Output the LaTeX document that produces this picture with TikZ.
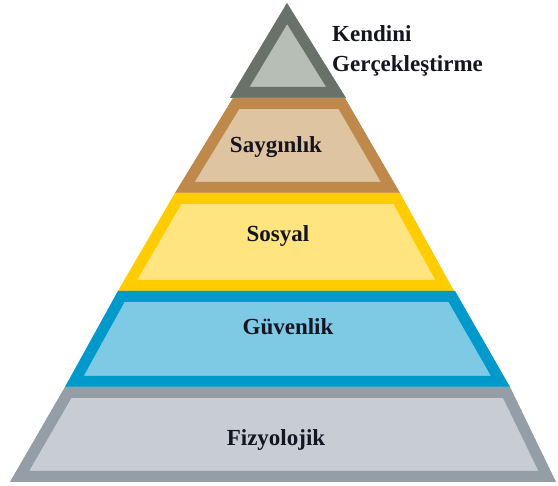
\documentclass[tikz,border=0pt]{standalone}
\usepackage{fontspec}
\newfontfamily\tierfont{Liberation Serif}
\begin{document}
\begin{tikzpicture}[x=1pt,y=-1pt]
\definecolor{topedge}{RGB}{104,114,104}
\definecolor{topfill}{RGB}{183,190,182}
\definecolor{esteemedge}{RGB}{190,137,74}
\definecolor{esteemfill}{RGB}{222,196,160}
\definecolor{socialedge}{RGB}{255,204,0}
\definecolor{socialfill}{RGB}{255,228,128}
\definecolor{safetyedge}{RGB}{0,153,204}
\definecolor{safetyfill}{RGB}{126,202,228}
\definecolor{bodyedge}{RGB}{149,157,166}
\definecolor{bodyfill}{RGB}{200,205,212}
\definecolor{ink}{RGB}{20,20,35}
\tikzset{
  lbl/.style={font=\tierfont\bfseries\fontsize{23}{27}\selectfont, text=ink, anchor=base, inner sep=0pt},
  band/.style={line width=22pt, line join=miter}
}
\useasboundingbox (0,0) rectangle (558,486);
\fill[white] (0,0) rectangle (558,486);
% each tier: light fill with a dark band on the inside of its outline
\newcommand\tier[3]{%
  \begin{scope}
    \clip #1 -- cycle;
    \fill[#3] #1 -- cycle;
    \draw[band, draw=#2] #1 -- cycle;
  \end{scope}}
\tier{(287,3) -- (346,98) -- (230,98)}{topedge}{topfill}
\tier{(233,98) -- (345,98) -- (400,193) -- (175,193)}{esteemedge}{esteemfill}
\tier{(175,193) -- (400,193) -- (454,291) -- (118,291)}{socialedge}{socialfill}
\tier{(118,291) -- (455,291) -- (510,387) -- (65,387)}{safetyedge}{safetyfill}
\tier{(65,387) -- (510,387) -- (556,482) -- (10,482)}{bodyedge}{bodyfill}
% labels
\node[lbl, anchor=base west] (self) at (332,42) {Kendini};
\node[lbl, anchor=base west] (self2) at (332,72) {Gerçekleştirme};
\node[lbl] (esteem) at (276,153) {Saygınlık};
\node[lbl] (social) at (278,242) {Sosyal};
\node[lbl] (safety) at (288,335) {Güvenlik};
\node[lbl] (body) at (276,446) {Fizyolojik};
\end{tikzpicture}
\end{document}
